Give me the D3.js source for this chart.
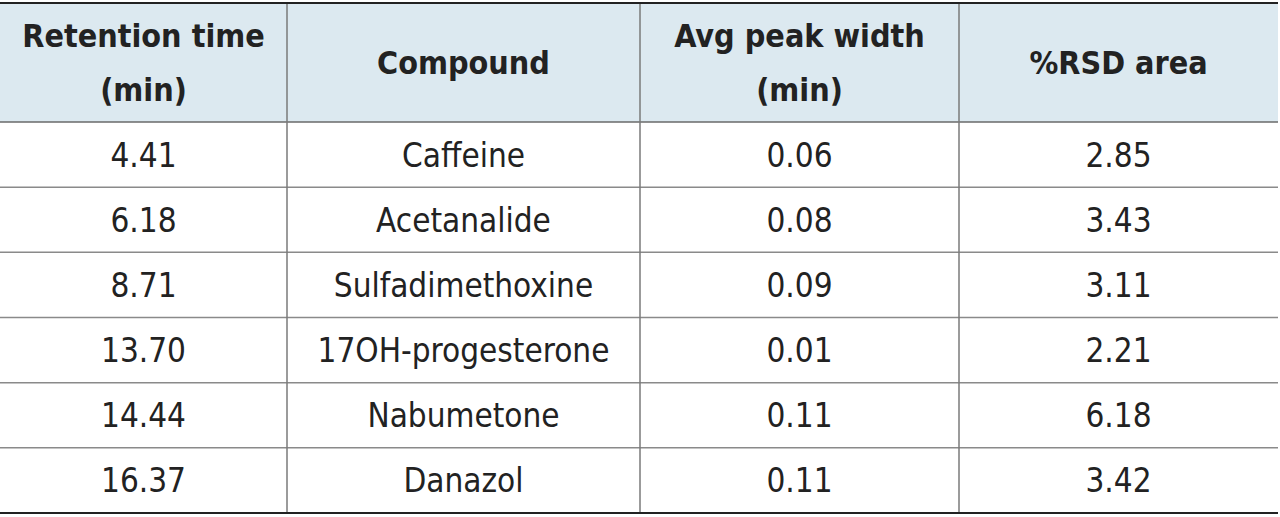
<!DOCTYPE html>
<html><head><meta charset="utf-8">
<script src="https://cdn.jsdelivr.net/npm/d3@7"></script>
<style>body{margin:0;background:#fff}</style>
</head><body>
<svg id="t" width="1280" height="517"></svg>
<script>
const headers = [["Retention time", "(min)"], ["Compound"], ["Avg peak width", "(min)"], ["%RSD area"]];
const retention = ["4.41", "6.18", "8.71", "13.70", "14.44", "16.37"];
const compounds = ["Caffeine", "Acetanalide", "Sulfadimethoxine", "17OH-progesterone", "Nabumetone", "Danazol"];
const peakWidth = ["0.06", "0.08", "0.09", "0.01", "0.11", "0.11"];
const rsdArea = ["2.85", "3.43", "3.11", "2.21", "6.18", "3.42"];

const font = "'DejaVu Sans Condensed', 'Liberation Sans Narrow', sans-serif";
const svg = d3.select('#t');
const colEdges = [0, 287, 640, 959, 1278];
const tableTop = 3, headBottom = 122, tableBottom = 513;
const rows = d3.range(retention.length);
const y = d3.scaleBand().domain(rows).range([headBottom, tableBottom]);
const cols = [retention, compounds, peakWidth, rsdArea];

svg.append('rect').attr('x', 0).attr('y', tableTop).attr('width', 1278).attr('height', headBottom - tableTop).attr('fill', '#dce9f0');

// row lines
svg.selectAll('line.r').data(rows.slice(1)).join('line')
  .attr('x1', 0).attr('x2', 1278).attr('y1', d => y(d)).attr('y2', d => y(d))
  .attr('stroke', '#8a8a8a').attr('stroke-width', 1.5);
svg.append('line').attr('x1', 0).attr('x2', 1278).attr('y1', headBottom).attr('y2', headBottom).attr('stroke', '#6a6a6a').attr('stroke-width', 1.5);
svg.selectAll('line.c').data(colEdges.slice(1, -1)).join('line')
  .attr('x1', d => d).attr('x2', d => d).attr('y1', tableTop).attr('y2', tableBottom)
  .attr('stroke', '#7a7a7a').attr('stroke-width', 1.5);
[tableTop, tableBottom].forEach(v => svg.append('line').attr('x1', 0).attr('x2', 1278).attr('y1', v).attr('y2', v).attr('stroke', '#222').attr('stroke-width', 2));

// header text
headers.forEach((lines, i) => {
  const cx = (colEdges[i] + colEdges[i + 1]) / 2;
  const cy = (tableTop + headBottom) / 2;
  const t = svg.append('text').attr('x', cx).attr('text-anchor', 'middle')
    .attr('font-family', font).attr('font-weight', 'bold').attr('font-size', 32).attr('fill', '#222');
  lines.forEach((l, k) => {
    t.append('tspan').attr('x', cx).attr('y', cy + 11 + (k - (lines.length - 1) / 2) * 54).text(l);
  });
});

// body text
cols.forEach((vals, i) => {
  const cx = (colEdges[i] + colEdges[i + 1]) / 2;
  svg.selectAll(null).data(vals).join('text')
    .attr('x', cx).attr('y', (d, j) => y(j) + y.bandwidth() / 2 + 12)
    .attr('text-anchor', 'middle').attr('font-family', font).attr('font-size', 33).attr('fill', '#222')
    .text(d => d);
});
</script>
</body></html>
